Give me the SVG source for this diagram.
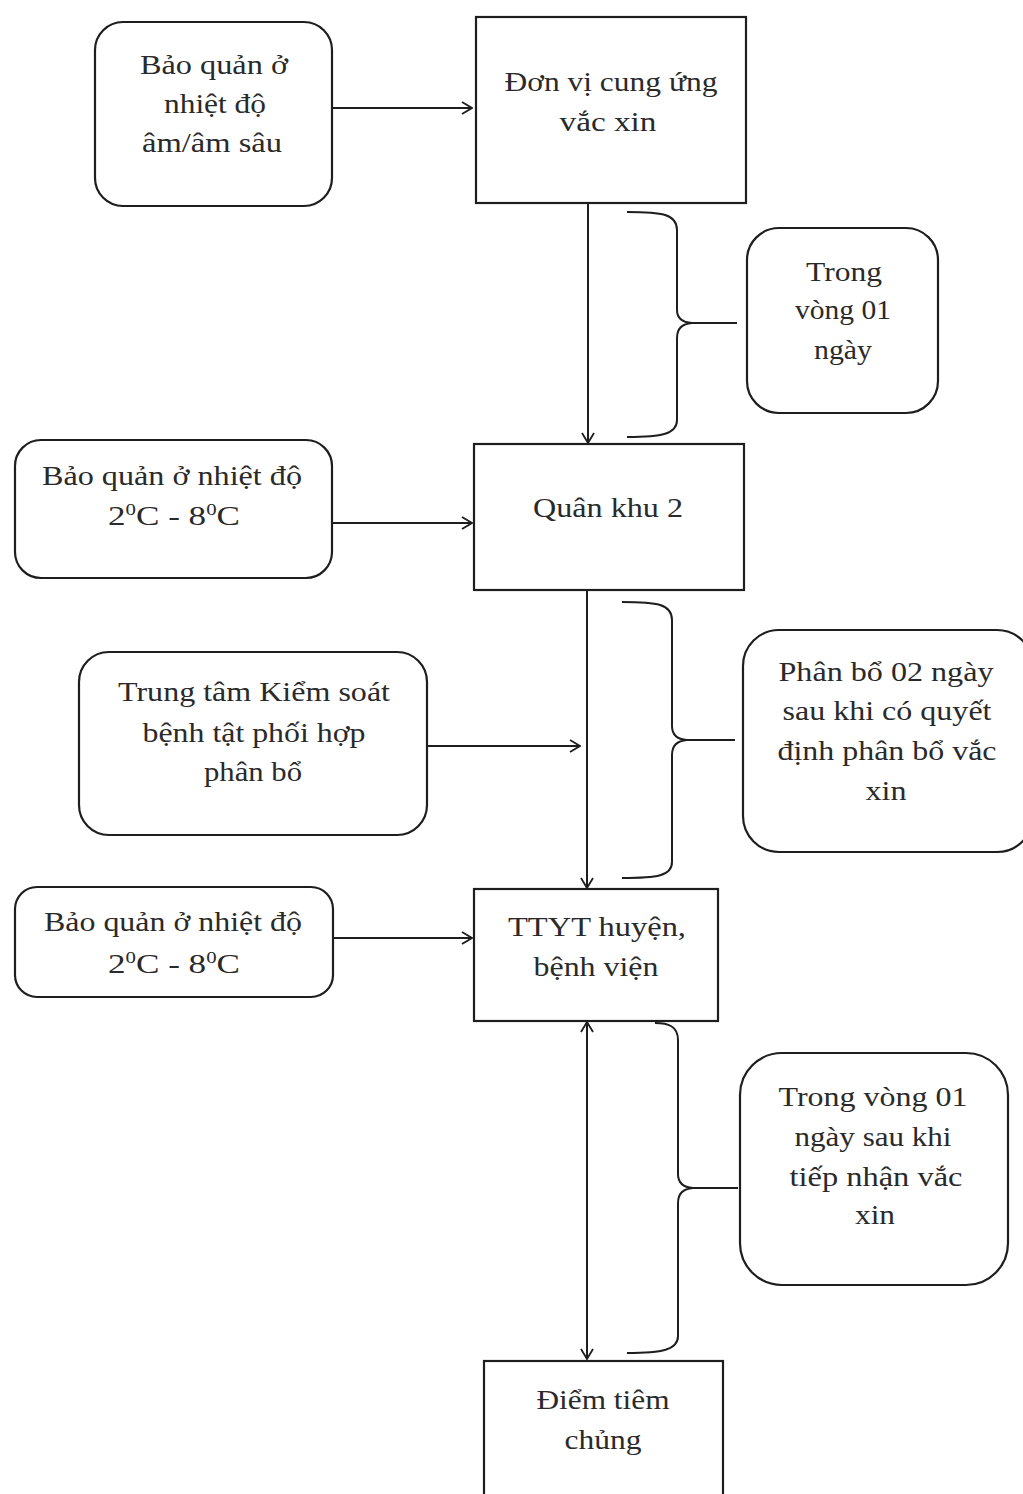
<svg xmlns="http://www.w3.org/2000/svg" width="1023" height="1494" viewBox="0 0 1023 1494">
<style>
.box{fill:#fff;stroke:#1e1e1e;stroke-width:2.2}
.t{font-family:"Liberation Serif","Times New Roman",serif;font-size:27px;fill:#2a2a2a;text-anchor:middle}
.c{fill:none;stroke:#1e1e1e;stroke-width:2}
</style>
<defs>
<marker id="ah" viewBox="0 0 12 14" refX="11" refY="7" markerWidth="12" markerHeight="14" markerUnits="userSpaceOnUse" orient="auto-start-reverse">
<path d="M1,1 L11,7 L1,13" fill="none" stroke="#1e1e1e" stroke-width="1.8"/>
</marker>
</defs>
<rect width="1023" height="1494" fill="#fff"/>
<g id="connectors">
<line class="c" x1="333" y1="108" x2="472" y2="108" marker-end="url(#ah)"/>
<line class="c" x1="588" y1="204" x2="588" y2="443" marker-end="url(#ah)"/>
<line class="c" x1="333" y1="523" x2="472" y2="523" marker-end="url(#ah)"/>
<line class="c" x1="587" y1="590" x2="587" y2="888" marker-end="url(#ah)"/>
<line class="c" x1="427" y1="746" x2="580" y2="746" marker-end="url(#ah)"/>
<line class="c" x1="333" y1="938" x2="472" y2="938" marker-end="url(#ah)"/>
<line class="c" x1="587" y1="1022" x2="587" y2="1359" marker-start="url(#ah)" marker-end="url(#ah)"/>
<path class="c" d="M627,212 C662,212 677,214 677,230 L677,310 Q677,322 692,323 L737,323 M692,323 Q677,324 677,338 L677,420 C677,434 662,437 627,437"/>
<path class="c" d="M622,602 C657,602 672,604 672,620 L672,726 Q672,739 687,740 L735,740 M687,740 Q672,741 672,755 L672,862 C672,876 657,878 622,878"/>
<path class="c" d="M655,1023 C668,1023 678,1026 678,1040 L678,1174 Q678,1187 693,1188 L738,1188 M693,1188 Q678,1189 678,1203 L678,1336 C678,1350 662,1353 627,1353"/>
</g>
<g id="node-bao-quan-am">
<rect class="box" x="95" y="22" width="237" height="184" rx="28"/>
<text class="t" x="214" y="74" textLength="148" lengthAdjust="spacingAndGlyphs">Bảo quản ở</text>
<text class="t" x="215" y="113" textLength="102" lengthAdjust="spacingAndGlyphs">nhiệt độ</text>
<text class="t" x="212" y="152" textLength="140" lengthAdjust="spacingAndGlyphs">âm/âm sâu</text>
</g>
<g id="node-don-vi">
<rect class="box" x="476" y="17" width="270" height="186"/>
<text class="t" x="611" y="91" textLength="213" lengthAdjust="spacingAndGlyphs">Đơn vị cung ứng</text>
<text class="t" x="608" y="131" textLength="97" lengthAdjust="spacingAndGlyphs">vắc xin</text>
</g>
<g id="node-trong-vong-1">
<rect class="box" x="747" y="228" width="191" height="185" rx="32"/>
<text class="t" x="844" y="281" textLength="76" lengthAdjust="spacingAndGlyphs">Trong</text>
<text class="t" x="843" y="319" textLength="96" lengthAdjust="spacingAndGlyphs">vòng 01</text>
<text class="t" x="843" y="359" textLength="58" lengthAdjust="spacingAndGlyphs">ngày</text>
</g>
<g id="node-bao-quan-28-1">
<rect class="box" x="15" y="440" width="317" height="138" rx="26"/>
<text class="t" x="172" y="485" textLength="260" lengthAdjust="spacingAndGlyphs">Bảo quản ở nhiệt độ</text>
<text class="t" x="174" y="525" textLength="132" lengthAdjust="spacingAndGlyphs">2<tspan dy="-10" font-size="16">0</tspan><tspan dy="10">C - 8</tspan><tspan dy="-10" font-size="16">0</tspan><tspan dy="10">C</tspan></text>
</g>
<g id="node-quan-khu">
<rect class="box" x="474" y="444" width="270" height="146"/>
<text class="t" x="608" y="517" textLength="150" lengthAdjust="spacingAndGlyphs">Quân khu 2</text>
</g>
<g id="node-trung-tam">
<rect class="box" x="79" y="652" width="348" height="183" rx="30"/>
<text class="t" x="254" y="701" textLength="272" lengthAdjust="spacingAndGlyphs">Trung tâm Kiểm soát</text>
<text class="t" x="254" y="742" textLength="223" lengthAdjust="spacingAndGlyphs">bệnh tật phối hợp</text>
<text class="t" x="253" y="781" textLength="98" lengthAdjust="spacingAndGlyphs">phân bổ</text>
</g>
<g id="node-phan-bo">
<rect class="box" x="743" y="630" width="290" height="222" rx="36"/>
<text class="t" x="886" y="681" textLength="215" lengthAdjust="spacingAndGlyphs">Phân bổ 02 ngày</text>
<text class="t" x="887" y="720" textLength="209" lengthAdjust="spacingAndGlyphs">sau khi có quyết</text>
<text class="t" x="887" y="760" textLength="219" lengthAdjust="spacingAndGlyphs">định phân bổ vắc</text>
<text class="t" x="886" y="800" textLength="41" lengthAdjust="spacingAndGlyphs">xin</text>
</g>
<g id="node-bao-quan-28-2">
<rect class="box" x="15" y="887" width="318" height="110" rx="22"/>
<text class="t" x="173" y="931" textLength="258" lengthAdjust="spacingAndGlyphs">Bảo quản ở nhiệt độ</text>
<text class="t" x="174" y="973" textLength="132" lengthAdjust="spacingAndGlyphs">2<tspan dy="-10" font-size="16">0</tspan><tspan dy="10">C - 8</tspan><tspan dy="-10" font-size="16">0</tspan><tspan dy="10">C</tspan></text>
</g>
<g id="node-ttyt">
<rect class="box" x="474" y="889" width="244" height="132"/>
<text class="t" x="597" y="936" textLength="178" lengthAdjust="spacingAndGlyphs">TTYT huyện,</text>
<text class="t" x="596" y="976" textLength="125" lengthAdjust="spacingAndGlyphs">bệnh viện</text>
</g>
<g id="node-trong-vong-2">
<rect class="box" x="740" y="1053" width="268" height="232" rx="42"/>
<text class="t" x="873" y="1106" textLength="189" lengthAdjust="spacingAndGlyphs">Trong vòng 01</text>
<text class="t" x="873" y="1146" textLength="157" lengthAdjust="spacingAndGlyphs">ngày sau khi</text>
<text class="t" x="876" y="1186" textLength="173" lengthAdjust="spacingAndGlyphs">tiếp nhận vắc</text>
<text class="t" x="875" y="1224" textLength="40" lengthAdjust="spacingAndGlyphs">xin</text>
</g>
<g id="node-diem-tiem">
<rect class="box" x="484" y="1361" width="239" height="150"/>
<text class="t" x="603" y="1409" textLength="133" lengthAdjust="spacingAndGlyphs">Điểm tiêm</text>
<text class="t" x="603" y="1449" textLength="77" lengthAdjust="spacingAndGlyphs">chủng</text>
</g>
</svg>
